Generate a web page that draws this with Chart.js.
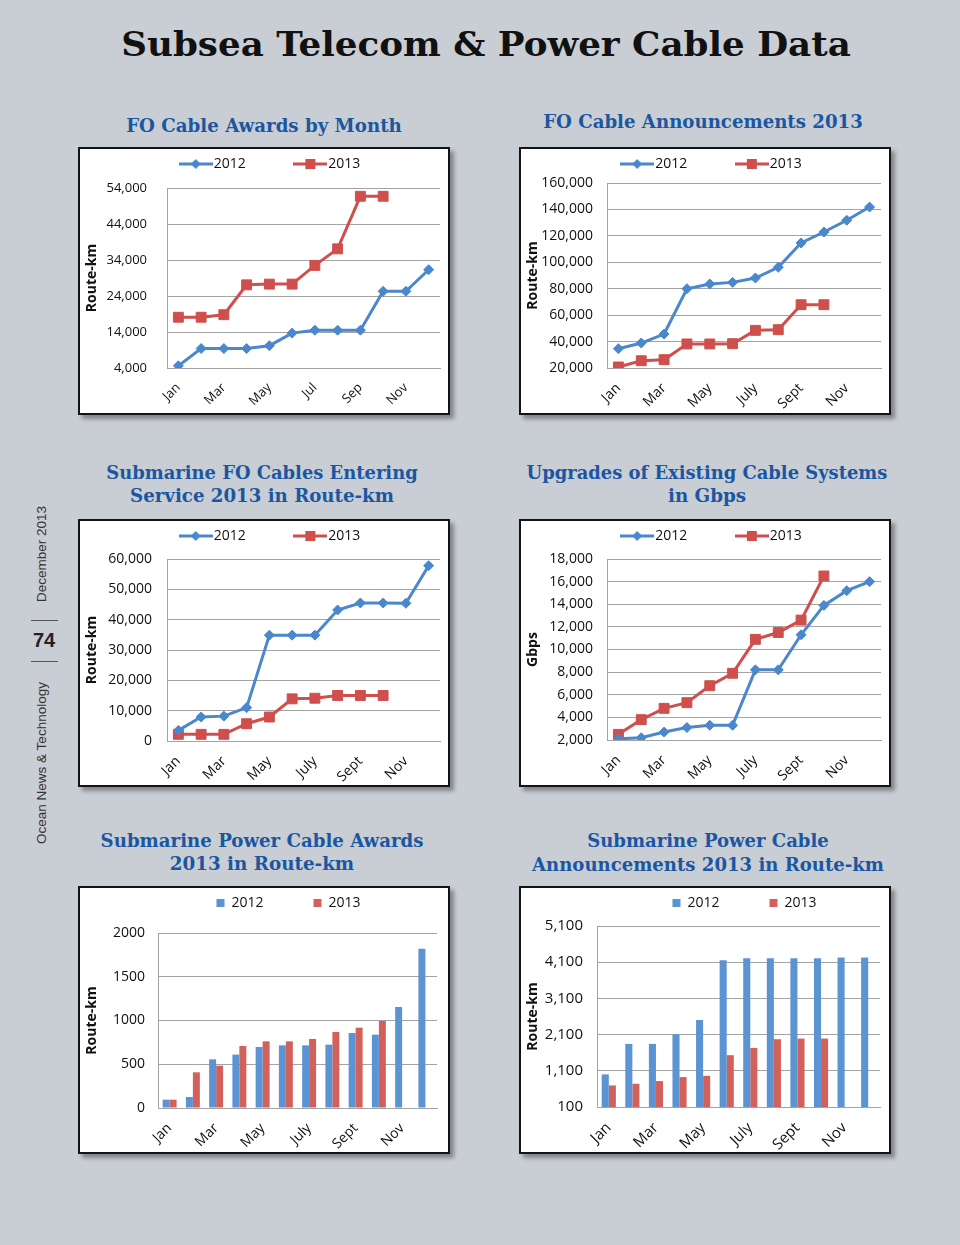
<!DOCTYPE html>
<html>
<head>
<meta charset="utf-8">
<script src="https://cdn.jsdelivr.net/npm/chart.js@4.4.0/dist/chart.umd.min.js"></script>
<style>
  body { margin: 0; width: 960px; height: 1245px; background: #c9cdd4; position: relative; overflow: hidden; }
  .box { position: absolute; width: 372px; height: 268px; box-sizing: border-box; border: 2px solid #141414;
         background: #fff; box-shadow: 4px 4px 4px rgba(0,0,0,0.35); }
  .ttl { position: absolute; white-space: nowrap; font-family: "DejaVu Serif", serif; font-weight: bold;
         color: #1b56a1; font-size: 19px; line-height: 1; }
  .main { color: #111; font-size: 34px; }
  .side { position: absolute; white-space: nowrap; font-family: "Liberation Sans", Arial, sans-serif;
          font-size: 13.5px; color: #333; transform: translate(-50%, -50%) rotate(-90deg); }
  .page { position: absolute; font-family: "Liberation Sans", Arial, sans-serif; font-weight: bold;
          font-size: 20px; color: #222; transform: translate(-50%, -50%); }
  .rule { position: absolute; left: 31px; width: 27px; height: 1px; background: #555; }
</style>
</head>
<body>

<div class="box" style="left:78px;top:147px"><canvas id="c1"></canvas></div>
<div class="box" style="left:519px;top:147px"><canvas id="c2"></canvas></div>
<div class="box" style="left:78px;top:519px"><canvas id="c3"></canvas></div>
<div class="box" style="left:519px;top:519px"><canvas id="c4"></canvas></div>
<div class="box" style="left:78px;top:886px"><canvas id="c5"></canvas></div>
<div class="box" style="left:519px;top:886px"><canvas id="c6"></canvas></div>

<div class="side" style="left:41px;top:554px">December 2013</div>
<div class="page" style="left:44px;top:640px">74</div>
<div class="rule" style="top:620px"></div>
<div class="rule" style="top:661px"></div>
<div class="side" style="left:41px;top:763px">Ocean News &amp; Technology</div>

<script>
// categories
const months = ['Jan', 'Feb', 'Mar', 'Apr', 'May', 'Jun', 'Jul', 'Aug', 'Sep', 'Oct', 'Nov', 'Dec'];
const monthsLong = ['Jan', 'Feb', 'Mar', 'Apr', 'May', 'June', 'July', 'Aug', 'Sept', 'Oct', 'Nov', 'Dec'];
const seriesNames = ['2012', '2013'];

// FO Cable Awards by Month (route-km)
const awards2012 = [4600, 9400, 9400, 9400, 10200, 13700, 14500, 14500, 14500, 25300, 25300, 31300];
const awards2013 = [18100, 18100, 18800, 27100, 27300, 27300, 32500, 37100, 51700, 51700];

// FO Cable Announcements 2013 (route-km)
const announce2012 = [34600, 38900, 45700, 80000, 83600, 84800, 88100, 96200, 114600, 122900, 131800, 141800];
const announce2013 = [20800, 25500, 26300, 38200, 38200, 38400, 48500, 49000, 67900, 67900];

// Submarine FO cables entering service (route-km)
const service2012 = [3500, 7900, 8200, 11000, 34900, 34900, 34900, 43200, 45500, 45500, 45400, 57800];
const service2013 = [2200, 2200, 2200, 5700, 7900, 13900, 14100, 15000, 15000, 15000];

// Upgrades of existing cable systems (Gbps)
const upgrades2012 = [2100, 2200, 2700, 3100, 3300, 3300, 8200, 8200, 11300, 13900, 15200, 16000];
const upgrades2013 = [2500, 3800, 4800, 5300, 6800, 7900, 10900, 11500, 12600, 16500];

// Submarine power cable awards (route-km)
const powerAwards2012 = [95, 126, 556, 610, 697, 716, 716, 724, 857, 838, 1154, 1821];
const powerAwards2013 = [95, 408, 484, 709, 762, 762, 789, 869, 918, 994];

// Submarine power cable announcements (route-km)
const powerAnn2012 = [1000, 1843, 1843, 2109, 2504, 4155, 4210, 4210, 4210, 4210, 4228, 4228];
const powerAnn2013 = [696, 742, 816, 926, 962, 1531, 1733, 1972, 1990, 1990];

// y-axis ticks: [min, max, step]
const ticks1 = [4000, 54000, 10000];
const ticks2 = [20000, 160000, 20000];
const ticks3 = [0, 60000, 10000];
const ticks4 = [2000, 18000, 2000];
const ticks5 = [0, 2000, 500];
const ticks6 = [100, 5100, 1000];

const blueLine = '#4a87cc';
const redLine = '#cf4f4c';
const blueBar = '#5b93d3';
const redBar = '#d2605b';
const gridCol = '#a3a3a3';

Chart.defaults.font.family = '"Open Sans", sans-serif';
Chart.defaults.color = '#111';

// legend icon: a short line with the series marker
function lineIcon(color, shape) {
  const c = document.createElement('canvas');
  c.width = 34; c.height = 14;
  const g = c.getContext('2d');
  g.strokeStyle = color; g.lineWidth = 3;
  g.beginPath(); g.moveTo(0, 7); g.lineTo(34, 7); g.stroke();
  g.fillStyle = color;
  if (shape === 'diamond') {
    g.beginPath(); g.moveTo(17, 2); g.lineTo(22, 7); g.lineTo(17, 12); g.lineTo(12, 7); g.closePath(); g.fill();
  } else {
    g.fillRect(12, 2, 10, 10);
  }
  return c;
}
const icons = [lineIcon(blueLine, 'diamond'), lineIcon(redLine, 'square')];

// keeps the legend at a set height and nudges it sideways
const legendPos = {
  id: 'legendPos',
  beforeLayout(chart, args, opts) {
    const lg = chart.legend;
    if (lg && !lg._fixed) {
      const fit = lg.fit;
      lg.fit = function () { fit.call(this); this.height = opts.h; };
      lg._fixed = true;
    }
  },
  afterLayout(chart, args, opts) {
    chart.legend.left += opts.dx;
    chart.legend.right += opts.dx;
  }
};

function makeChart(id, type, labels, a, b, yt, yTitle, area, fontSize, yPad, dx, fmt) {
  const isBar = type === 'bar';
  const datasets = [a, b].map((vals, i) => {
    const col = isBar ? [blueBar, redBar][i] : [blueLine, redLine][i];
    const ds = { label: seriesNames[i], data: vals, backgroundColor: col, borderColor: col };
    if (isBar) {
      ds.categoryPercentage = 0.6;
      ds.barPercentage = 1;
    } else {
      ds.borderWidth = 3;
      ds.pointStyle = i === 0 ? 'rectRot' : 'rect';
      ds.pointRadius = i === 0 ? 5 : 7;
      ds.pointBorderWidth = 1;
      ds.tension = 0;
    }
    return ds;
  });

  new Chart(document.getElementById(id), {
    type: type,
    data: { labels: labels, datasets: datasets },
    plugins: [legendPos],
    options: {
      responsive: true,
      maintainAspectRatio: false,
      animation: false,
      layout: { padding: { left: 0, top: 0, bottom: 0, right: 368 - area[1] } },
      plugins: {
        tooltip: { enabled: false },
        legendPos: { h: area[2], dx: dx },
        legend: {
          labels: {
            padding: 8,
            color: '#111',
            font: { size: 14 },
            usePointStyle: !isBar,
            pointStyleWidth: 22,
            boxWidth: 8,
            boxHeight: 8,
            generateLabels(chart) {
              const items = Chart.defaults.plugins.legend.labels.generateLabels(chart);
              items.forEach((it, i) => {
                if (!isBar) it.pointStyle = icons[i];
                it.lineWidth = 0;
              });
              items[0].text += isBar ? '\u2003\u2003\u2003' : '\u2003\u2003\u2003 ';
              return items;
            }
          }
        }
      },
      scales: {
        x: {
          offset: true,
          grid: { display: false },
          border: { display: true, color: gridCol, width: 1 },
          ticks: {
            autoSkip: false, minRotation: 45, maxRotation: 45, padding: 4,
            font: { size: fontSize }, color: '#111',
            callback(v, i) { return i % 2 === 0 ? this.getLabelForValue(v) : ''; }
          },
          afterFit(s) { s.height = 264 - area[3]; }
        },
        y: {
          min: yt[0], max: yt[1],
          grid: { color: gridCol, drawTicks: false },
          border: { display: true, color: gridCol, width: 1 },
          ticks: { stepSize: yt[2], padding: yPad, font: { size: fontSize }, color: '#111', callback: fmt },
          title: { display: true, text: yTitle, color: '#111', font: { size: 14, weight: 'bold' } },
          afterFit(s) { s.width = area[0]; }
        }
      }
    }
  });
}

const comma = v => v.toLocaleString('en-US');
const plain = v => String(v);

// area: [left, right, top, bottom] of the plot inside the box
makeChart('c1', 'line', months, awards2012, awards2013, ticks1, 'Route-km', [87, 361, 39, 219], 13, 20, 12, comma);
makeChart('c2', 'line', monthsLong, announce2012, announce2013, ticks2, 'Route-km', [86, 360, 34, 219], 14, 14, 13, comma);
makeChart('c3', 'line', monthsLong, service2012, service2013, ticks3, 'Route-km', [87, 361, 38, 220], 14, 15, 12, comma);
makeChart('c4', 'line', monthsLong, upgrades2012, upgrades2013, ticks4, 'Gbps', [86, 360, 38, 219], 14, 14, 13, comma);
makeChart('c5', 'bar', monthsLong, powerAwards2012, powerAwards2013, ticks5, 'Route-km', [78, 357, 45, 220], 14, 13, 30, plain);
makeChart('c6', 'bar', monthsLong, powerAnn2012, powerAnn2013, ticks6, 'Route-km', [76, 359, 38, 219], 15, 14, 44, comma);

// headings
const headings = [
  ['Subsea Telecom & Power Cable Data', 486, 44, 729, true],
  ['FO Cable Awards by Month', 264, 125, 276],
  ['FO Cable Announcements 2013', 703, 121, 320],
  ['Submarine FO Cables Entering', 262, 472, 311],
  ['Service 2013 in Route-km', 262, 495, 264],
  ['Upgrades of Existing Cable Systems', 707, 472, 361],
  ['in Gbps', 707, 495, 78],
  ['Submarine Power Cable Awards', 262, 840, 323],
  ['2013 in Route-km', 262, 863, 184],
  ['Submarine Power Cable', 708, 840, 242],
  ['Announcements 2013 in Route-km', 708, 864, 352]
];
headings.forEach(h => {
  const d = document.createElement('div');
  d.className = h[4] ? 'ttl main' : 'ttl';
  d.textContent = h[0];
  document.body.appendChild(d);
  const s = h[3] / d.offsetWidth;
  d.style.left = h[1] + 'px';
  d.style.top = h[2] + 'px';
  d.style.transform = 'translate(-50%, -50%) scaleX(' + s + ')';
});
</script>
</body>
</html>
